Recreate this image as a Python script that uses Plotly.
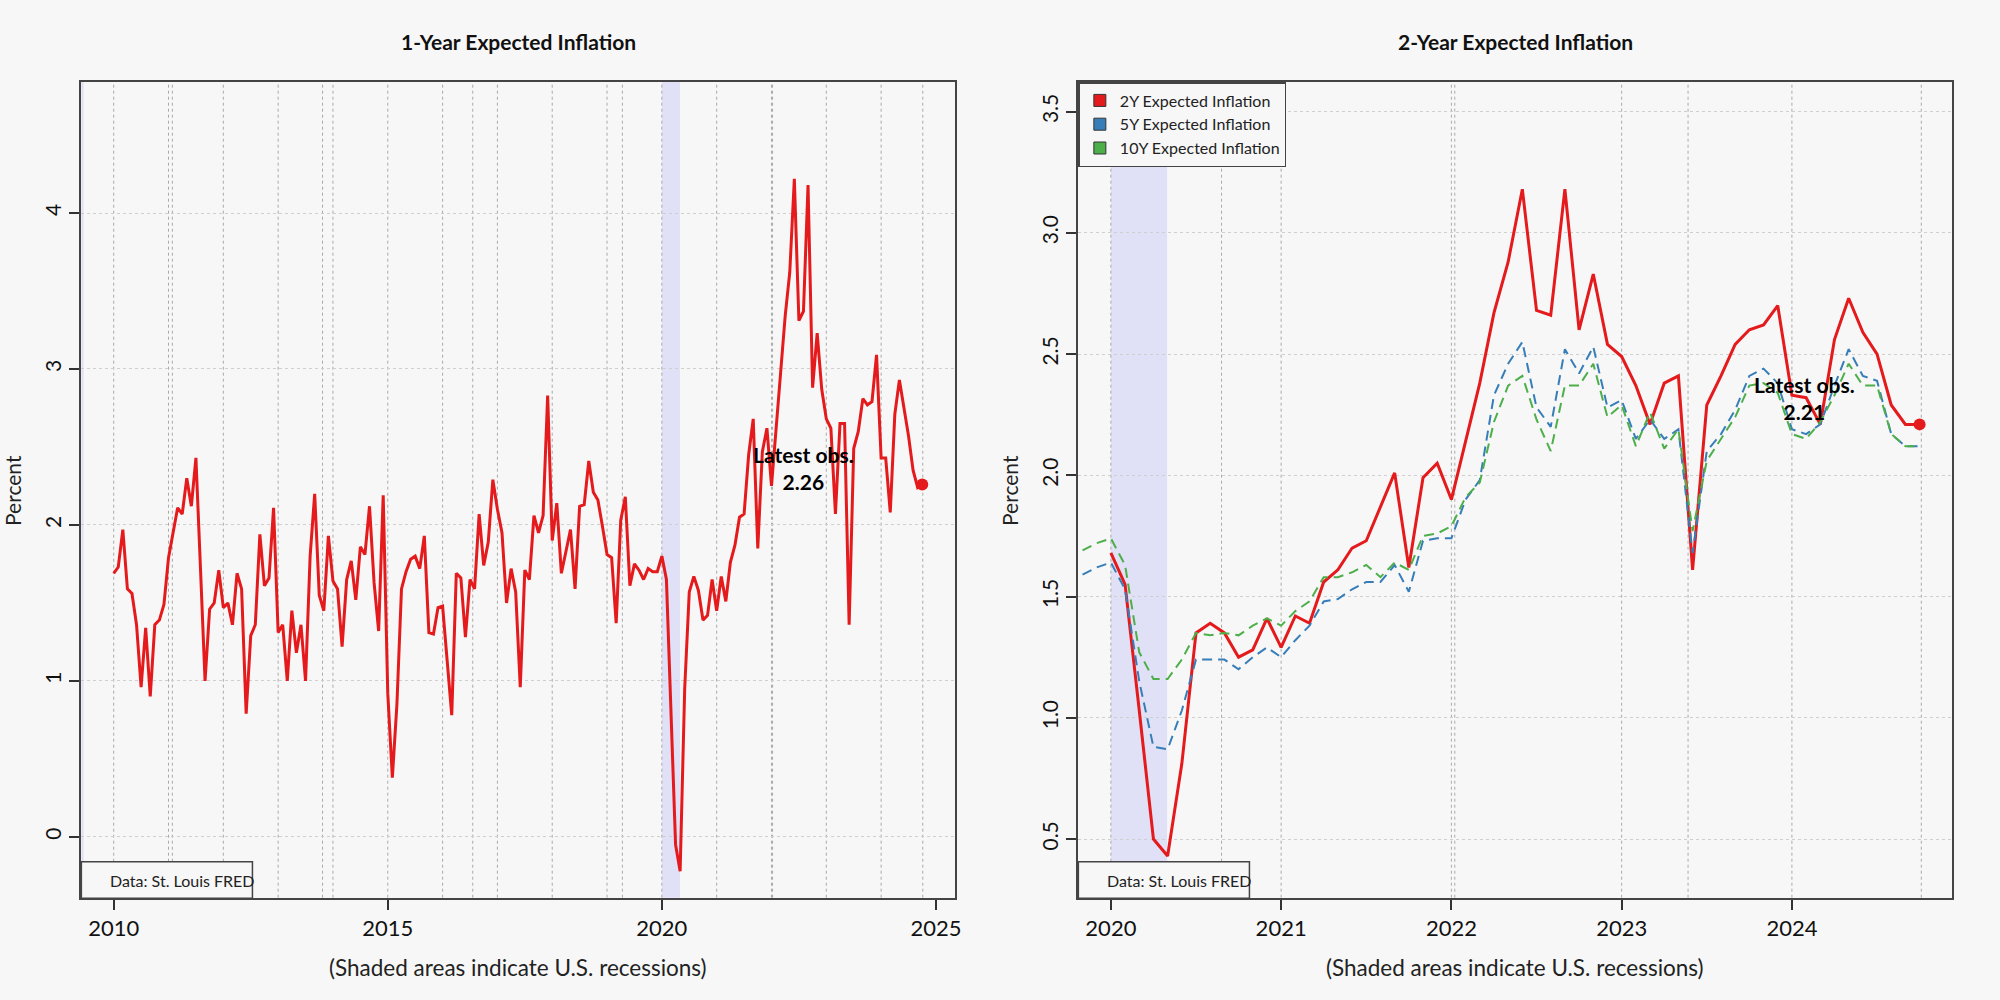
import pandas as pd
import plotly.graph_objects as go

# ---------------- data ----------------
inf_1y_start = "2010-01-01"
inf_1y = [
    1.69, 1.73, 1.97, 1.59, 1.56, 1.36, 0.96, 1.34, 0.90, 1.36, 1.39, 1.49,
    1.79, 1.95, 2.11, 2.07, 2.30, 2.12, 2.43, 1.72, 1.00, 1.46, 1.50, 1.71,
    1.47, 1.50, 1.36, 1.69, 1.59, 0.79, 1.29, 1.36, 1.94, 1.61, 1.66, 2.11,
    1.31, 1.36, 1.00, 1.45, 1.18, 1.36, 1.00, 1.80, 2.20, 1.55, 1.45, 1.93,
    1.64, 1.59, 1.22, 1.65, 1.77, 1.52, 1.86, 1.81, 2.12, 1.63, 1.32, 2.19,
    0.92, 0.38, 0.85, 1.59, 1.70, 1.78, 1.80, 1.72, 1.93, 1.31, 1.30, 1.47,
    1.48, 1.13, 0.78, 1.69, 1.66, 1.28, 1.65, 1.59, 2.07, 1.74, 1.89, 2.29,
    2.10, 1.95, 1.50, 1.72, 1.57, 0.96, 1.71, 1.65, 2.06, 1.95, 2.06, 2.83,
    1.90, 2.14, 1.69, 1.83, 1.97, 1.59, 2.12, 2.13, 2.41, 2.21, 2.16, 1.99,
    1.81, 1.79, 1.37, 2.03, 2.18, 1.61, 1.75, 1.71, 1.65, 1.72, 1.70, 1.70,
    1.80, 1.65, 0.80, -0.05, -0.22, 0.95, 1.57, 1.67, 1.58, 1.39, 1.42, 1.65,
    1.45, 1.67, 1.51, 1.76, 1.87, 2.05, 2.07, 2.45, 2.68, 1.85, 2.47, 2.62,
    2.25, 2.62, 3.03, 3.34, 3.62, 4.22, 3.31, 3.37, 4.18, 2.88, 3.23, 2.87,
    2.68, 2.62, 2.07, 2.65, 2.65, 1.36, 2.49, 2.60, 2.81, 2.77, 2.79, 3.09,
    2.43, 2.43, 2.08, 2.71, 2.93, 2.75, 2.57, 2.35, 2.24, 2.26,
]

inf_2y_start = "2020-01-01"
inf_2y = [
    1.68, 1.55, 1.03, 0.50, 0.43, 0.81, 1.35, 1.39, 1.35, 1.25, 1.28, 1.41,
    1.29, 1.42, 1.39, 1.56, 1.61, 1.70, 1.73, 1.87, 2.01, 1.62, 1.99, 2.05,
    1.90, 2.14, 2.38, 2.67, 2.88, 3.18, 2.68, 2.66, 3.18, 2.60, 2.83, 2.54,
    2.49, 2.37, 2.21, 2.38, 2.41, 1.61, 2.29, 2.41, 2.54, 2.60, 2.62, 2.70,
    2.33, 2.32, 2.21, 2.56, 2.73, 2.59, 2.50, 2.29, 2.21, 2.21,
]

inf_5y_10y_start = "2019-10-01"
inf_5y = [
    1.56, 1.59, 1.62,
    1.64, 1.53, 1.15, 0.88, 0.87, 1.03, 1.24, 1.24, 1.24, 1.20, 1.25, 1.29,
    1.25, 1.32, 1.38, 1.48, 1.49, 1.53, 1.56, 1.56, 1.63, 1.52, 1.73, 1.74,
    1.74, 1.90, 1.98, 2.33, 2.46, 2.55, 2.28, 2.20, 2.52, 2.42, 2.53, 2.28,
    2.31, 2.15, 2.23, 2.15, 2.19, 1.68, 2.10, 2.17, 2.27, 2.41, 2.44, 2.38,
    2.19, 2.17, 2.21, 2.37, 2.52, 2.41, 2.39, 2.17, 2.12, 2.12,
]
inf_10y = [
    1.66, 1.69, 1.72,
    1.74, 1.63, 1.27, 1.16, 1.16, 1.24, 1.35, 1.34, 1.35, 1.34, 1.38, 1.41,
    1.38, 1.44, 1.48, 1.58, 1.58, 1.60, 1.63, 1.58, 1.64, 1.61, 1.75, 1.76,
    1.79, 1.91, 1.97, 2.22, 2.37, 2.41, 2.23, 2.10, 2.37, 2.37, 2.46, 2.24,
    2.29, 2.12, 2.26, 2.11, 2.19, 1.77, 2.06, 2.15, 2.24, 2.37, 2.38, 2.34,
    2.17, 2.15, 2.22, 2.33, 2.46, 2.37, 2.37, 2.17, 2.12, 2.12,
]

# U.S. recessions (decimal years)
recession_start = [2007.92, 2020.0]
recession_end = [2009.45, 2020.33]

# axis ticks / grid positions
left_xticks = [2010, 2015, 2020, 2025]
right_xticks = [2020, 2021, 2022, 2023, 2024]
left_yticks = [0, 1, 2, 3, 4]
right_yticks = [0.5, 1.0, 1.5, 2.0, 2.5, 3.0, 3.5]
right_ytick_text = ["0.5", "1.0", "1.5", "2.0", "2.5", "3.0", "3.5"]
left_vgrid = list(range(2010, 2025)) + [2011.07, 2013.81, 2016.55, 2019.28, 2022.02, 2024.76]
right_vgrid = [2020, 2021, 2022, 2023, 2024, 2020.65, 2022.02, 2023.39, 2024.76]

# ---------------- styling ----------------
BG = "#f7f7f7"
RED = "#e41a1c"
BLUE = "#377eb8"
GREEN = "#4daf4a"
SHADE = "rgb(224,224,246)"
FONT = "Lato"
W, H = 2000, 1000


def dec_year(start, n):
    d = pd.date_range(start, periods=n, freq="MS")
    return list(d.year + (d.month - 1) / 12.0)


x1 = dec_year(inf_1y_start, len(inf_1y))
x2 = dec_year(inf_2y_start, len(inf_2y))
x5 = dec_year(inf_5y_10y_start, len(inf_5y))
x10 = dec_year(inf_5y_10y_start, len(inf_10y))

fig = go.Figure()

# left panel
fig.add_trace(go.Scatter(x=x1, y=inf_1y, mode="lines", line=dict(color=RED, width=3),
                         xaxis="x", yaxis="y", showlegend=False, hoverinfo="skip"))
fig.add_trace(go.Scatter(x=[x1[-1]], y=[inf_1y[-1]], mode="markers",
                         marker=dict(color=RED, size=12, symbol="circle"),
                         xaxis="x", yaxis="y", showlegend=False, hoverinfo="skip"))

# right panel
fig.add_trace(go.Scatter(x=x2, y=inf_2y, mode="lines", line=dict(color=RED, width=3),
                         xaxis="x2", yaxis="y2", showlegend=False, hoverinfo="skip"))
fig.add_trace(go.Scatter(x=x5, y=inf_5y, mode="lines",
                         line=dict(color=BLUE, width=2, dash="10px,6px"),
                         xaxis="x2", yaxis="y2", showlegend=False, hoverinfo="skip"))
fig.add_trace(go.Scatter(x=x10, y=inf_10y, mode="lines",
                         line=dict(color=GREEN, width=2, dash="10px,6px"),
                         xaxis="x2", yaxis="y2", showlegend=False, hoverinfo="skip"))
fig.add_trace(go.Scatter(x=[x2[-1]], y=[inf_2y[-1]], mode="markers",
                         marker=dict(color=RED, size=12, symbol="circle"),
                         xaxis="x2", yaxis="y2", showlegend=False, hoverinfo="skip"))

# legend entries (square keys)
for name, col in [("2Y Expected Inflation", RED), ("5Y Expected Inflation", BLUE),
                  ("10Y Expected Inflation", GREEN)]:
    fig.add_trace(go.Scatter(x=[None], y=[None], mode="markers", name=name,
                             marker=dict(color=col, size=12, symbol="square",
                                         line=dict(color="#333333", width=1)),
                             xaxis="x2", yaxis="y2", showlegend=True))

# geometry (pixels)
L1, R1 = 81.6, 958.0
L2, R2 = 1081.6, 1958.0
TOP, BOT = 82.0, 897.7
ydom = [1 - BOT / H, 1 - TOP / H]

axis_common = dict(
    ticks="outside", ticklen=10, tickwidth=1.5, tickcolor="#333333",
    showline=True, mirror=True, linecolor="#444444", linewidth=2,
    zeroline=False,
)

fig.update_layout(
    width=W, height=H,
    margin=dict(l=0, r=0, t=0, b=0),
    paper_bgcolor=BG, plot_bgcolor=BG,
    font=dict(family=FONT, color="#111111"),
    xaxis=dict(domain=[L1 / W, R1 / W], range=[2009.41, 2025.35], anchor="y",
               tickvals=left_xticks, showgrid=False,
               tickfont=dict(size=22, family=FONT, color="#111111"), **axis_common),
    yaxis=dict(domain=ydom, range=[-0.39, 4.84], anchor="x",
               tickvals=left_yticks, tickangle=-90,
               showgrid=True, gridcolor="#cfcfcf", griddash="dot", gridwidth=1,
               tickfont=dict(size=21, family=FONT, color="#111111"), **axis_common),
    xaxis2=dict(domain=[L2 / W, R2 / W], range=[2019.809, 2024.941], anchor="y2",
                tickvals=right_xticks, showgrid=False,
                tickfont=dict(size=22, family=FONT, color="#111111"), **axis_common),
    yaxis2=dict(domain=ydom, range=[0.258, 3.622], anchor="x2",
                tickvals=right_yticks, ticktext=right_ytick_text, tickangle=-90,
                showgrid=True, gridcolor="#cfcfcf", griddash="dot", gridwidth=1,
                tickfont=dict(size=21, family=FONT, color="#111111"), **axis_common),
    legend=dict(x=L2 / W, y=1 - TOP / H, xanchor="left", yanchor="top",
                bgcolor=BG, bordercolor="#444444", borderwidth=1.5,
                font=dict(size=16, family=FONT, color="#222222"),
                tracegroupgap=0, itemwidth=30),
)

shapes = []
# recession shading
for xa, ya in [("x", "y"), ("x2", "y2")]:
    for s, e in zip(recession_start, recession_end):
        shapes.append(dict(type="rect", xref=xa, yref=ya + " domain", x0=s, x1=e, y0=0, y1=1,
                           fillcolor=SHADE, line=dict(width=0), layer="below"))
# vertical dotted grid
for g in left_vgrid:
    shapes.append(dict(type="line", xref="x", yref="y domain", x0=g, x1=g, y0=0, y1=1,
                       line=dict(color="#a9a9a9", width=1, dash="dot"), layer="below"))
for g in right_vgrid:
    shapes.append(dict(type="line", xref="x2", yref="y2 domain", x0=g, x1=g, y0=0, y1=1,
                       line=dict(color="#a9a9a9", width=1, dash="dot"), layer="below"))
# data source boxes
for left in (L1, L2):
    shapes.append(dict(type="rect", xref="paper", yref="paper",
                       x0=left / W, x1=(left + 171.6) / W,
                       y0=1 - 898.3 / H, y1=1 - 861.7 / H,
                       fillcolor=BG, line=dict(color="#444444", width=1.5), layer="above"))
fig.update_layout(shapes=shapes)

ann = []
# titles
for cx, t in [((L1 + R1) / 2, "1-Year Expected Inflation"), ((L2 + R2) / 2, "2-Year Expected Inflation")]:
    ann.append(dict(x=cx / W, y=1 - 41 / H, xref="paper", yref="paper", text="<b>" + t + "</b>",
                    showarrow=False, xanchor="center", yanchor="middle",
                    font=dict(size=21, family=FONT, color="#111111")))
# axis titles
for cx in (12, 1012):
    ann.append(dict(x=cx / W, y=1 - 490 / H, xref="paper", yref="paper", text="Percent",
                    textangle=-90, showarrow=False, xanchor="center", yanchor="middle",
                    font=dict(size=21, family=FONT, color="#222222")))
for cx in ((L1 + R1) / 2, (L2 + R2) / 2):
    ann.append(dict(x=cx / W, y=1 - 967 / H, xref="paper", yref="paper",
                    text="(Shaded areas indicate U.S. recessions)",
                    showarrow=False, xanchor="center", yanchor="middle",
                    font=dict(size=22.5, family=FONT, color="#222222")))
# data source text
for left in (L1, L2):
    ann.append(dict(x=(left + 27.0) / W, y=1 - 880.5 / H, xref="paper", yref="paper",
                    text="Data: St. Louis FRED", showarrow=False, xanchor="left", yanchor="middle",
                    font=dict(size=16, family=FONT, color="#222222")))
# latest observation labels
ann.append(dict(x=x1[-1], y=inf_1y[-1] + 0.107, xref="x", yref="y",
                text="<b>Latest obs.<br>%.2f</b>" % inf_1y[-1], showarrow=False,
                xanchor="center", yanchor="middle", xshift=-119,
                font=dict(size=21, family=FONT, color="#000000")))
ann.append(dict(x=x2[-1], y=inf_2y[-1] + 0.107, xref="x2", yref="y2",
                text="<b>Latest obs.<br>%.2f</b>" % inf_2y[-1], showarrow=False,
                xanchor="center", yanchor="middle", xshift=-115,
                font=dict(size=21, family=FONT, color="#000000")))
fig.update_layout(annotations=ann)

fig.write_html(
    "out.html",
    config={"displayModeBar": False},
    post_script="document.body.style.margin='0';document.body.style.background='%s';" % BG,
)
